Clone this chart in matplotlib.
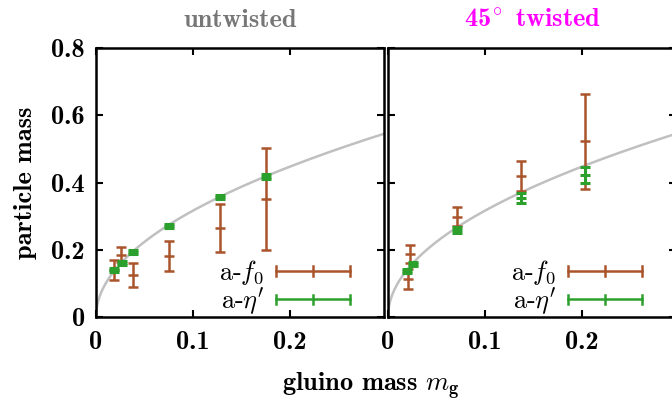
import numpy as np
import matplotlib.pyplot as plt
from matplotlib.legend_handler import HandlerBase
from matplotlib.lines import Line2D
from matplotlib.container import ErrorbarContainer

plt.rcParams['mathtext.fontset'] = 'cm'
plt.rcParams['font.family'] = 'cmr10'
plt.rcParams['axes.unicode_minus'] = False

# untwisted
u_f0_x = [0.019, 0.026, 0.0385, 0.075, 0.128, 0.175]
u_f0_y = [0.140, 0.185, 0.125, 0.181, 0.264, 0.350]
u_f0_err = [0.030, 0.022, 0.037, 0.044, 0.072, 0.152]
u_eta_x = [0.0186, 0.0265, 0.0378, 0.075, 0.128, 0.175]
u_eta_y = [0.140, 0.160, 0.193, 0.271, 0.358, 0.417]
u_eta_err = [0.006, 0.006, 0.006, 0.006, 0.006, 0.007]

# 45 degree twisted
t_f0_x = [0.021, 0.023, 0.0715, 0.1375, 0.2035]
t_f0_y = [0.112, 0.1875, 0.298, 0.420, 0.522]
t_f0_err = [0.030, 0.027, 0.028, 0.045, 0.141]
t_eta_x = [0.0194, 0.0257, 0.0715, 0.1375, 0.2035]
t_eta_y = [0.138, 0.157, 0.259, 0.355, 0.4226]
t_eta_err = [0.006, 0.006, 0.009, 0.015, 0.023]

fit_coef = 1.0  # grey guide curve  m = c * sqrt(m_g)

x_ticks = [0, 0.1, 0.2]
x_labels = ['0', '0.1', '0.2']
y_ticks = [0, 0.2, 0.4, 0.6, 0.8]
y_labels = ['0', '0.2', '0.4', '0.6', '0.8']

# cmb10 has no degree glyph, so the degree comes from mathtext
titles = ['untwisted', r'45$^{\!\circ}$ twisted']
title_colors = ['#777777', '#ff00ff']

c_f0 = '#a9542a'
c_eta = '#2ca02c'
FS = 19


class HandlerBar(HandlerBase):
    # gnuplot style key: horizontal line with caps at ends and middle
    def create_artists(self, legend, orig_handle, xdescent, ydescent,
                       width, height, fontsize, trans):
        col = orig_handle.lines[0].get_color()
        y = height / 2 - ydescent
        h = 3.5
        arts = [Line2D([-xdescent, width - xdescent], [y, y], color=col, lw=1.8)]
        for xx in [-xdescent, width / 2 - xdescent, width - xdescent]:
            arts.append(Line2D([xx, xx], [y - h, y + h], color=col, lw=1.8))
        for a in arts:
            a.set_transform(trans)
        return arts


def draw_panel(ax, f0, eta, title, tcol, ylab):
    xc = np.linspace(0, 0.31, 400)
    ax.plot(xc, fit_coef * np.sqrt(xc), color='#c0c0c0', lw=1.8, zorder=1)
    ax.errorbar(f0[0], f0[1], yerr=f0[2], fmt='_', color=c_f0, ms=7, mew=1.8,
                elinewidth=1.8, capsize=3.3, capthick=1.8, label=r'a-$f_0$', zorder=2)
    ax.errorbar(eta[0], eta[1], yerr=eta[2], fmt='_', color=c_eta, ms=7, mew=2.2,
                elinewidth=2.2, capsize=3.3, capthick=2.2, label=r"a-$\eta'$", zorder=3)
    ax.set_xlim(0, 0.297)
    ax.set_ylim(0, 0.8)
    ax.set_xticks(x_ticks)
    ax.set_xticklabels(x_labels, family='cmb10', fontsize=FS)
    ax.set_yticks(y_ticks)
    if ylab:
        ax.set_yticklabels(y_labels, family='cmb10', fontsize=FS)
    else:
        ax.set_yticklabels([])
    ax.tick_params(direction='in', length=5, width=1.5, top=True, right=True, pad=10)
    ax.tick_params(axis='y', pad=8)
    for s in ax.spines.values():
        s.set_linewidth(1.8)
    ax.set_title(title, color=tcol, family='cmb10', fontsize=FS, pad=15)
    ax.legend(loc='lower right', bbox_to_anchor=(0.882, 0.0), frameon=False,
              markerfirst=False, fontsize=FS, handlelength=2.8, labelspacing=-0.07,
              handletextpad=0.45, borderpad=0, borderaxespad=0,
              handler_map={ErrorbarContainer: HandlerBar()})


fig = plt.figure(figsize=(6.72, 4), dpi=100)
ax1 = fig.add_axes([96 / 672, 83 / 400, 288 / 672, 269 / 400])
ax2 = fig.add_axes([388 / 672, 83 / 400, 288 / 672, 269 / 400])

draw_panel(ax1, (u_f0_x, u_f0_y, u_f0_err), (u_eta_x, u_eta_y, u_eta_err),
           titles[0], title_colors[0], True)
draw_panel(ax2, (t_f0_x, t_f0_y, t_f0_err), (t_eta_x, t_eta_y, t_eta_err),
           titles[1], title_colors[1], False)

ax1.set_ylabel('particle mass', family='cmb10', fontsize=FS, labelpad=10)
fig.text(371 / 672, 1 - 391 / 400, r'gluino mass $m_{\mathbf{g}}$', family='cmb10',
         fontsize=FS, ha='center', va='baseline')

fig.savefig('out.png', dpi=100)
